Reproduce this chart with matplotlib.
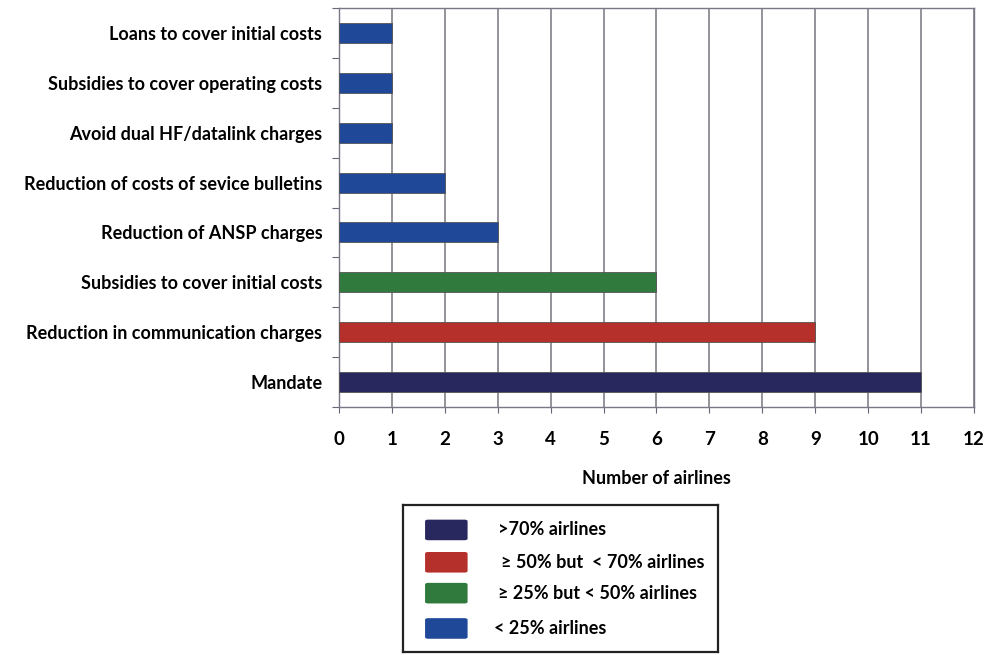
import matplotlib
matplotlib.use("Agg")
import matplotlib.pyplot as plt
from matplotlib.patches import FancyBboxPatch
import numpy as np

plt.rcParams['font.family'] = ['Lato', 'DejaVu Sans']

categories = [
    "Mandate",
    "Reduction in communication charges",
    "Subsidies to cover initial costs",
    "Reduction of ANSP charges",
    "Reduction of costs of sevice bulletins",
    "Avoid dual HF/datalink charges",
    "Subsidies to cover operating costs",
    "Loans to cover initial costs",
]
values = [11, 9, 6, 3, 2, 1, 1, 1]
groups = [0, 1, 2, 3, 3, 3, 3, 3]

group_labels = [">70% airlines", "\u2265 50% but  < 70% airlines",
                "\u2265 25% but < 50% airlines", "< 25% airlines"]
group_colors = ["#28285e", "#b5302a", "#2f7a3c", "#1f4899"]

x_ticks = list(range(0, 13))

fig = plt.figure(figsize=(9.89, 6.55), dpi=100)
ax = fig.add_axes([0.3428, 0.3786, 0.6420, 0.6092])

y = np.arange(len(categories))
ax.barh(y, values, height=0.4, color=[group_colors[g] for g in groups],
        edgecolor="#555555", linewidth=0.6, zorder=3)

ax.set_xlim(0, 12)
ax.set_ylim(-0.5, len(categories) - 0.5)
ax.set_xticks(x_ticks)
ax.set_xticklabels([str(t) for t in x_ticks], fontsize=13.5, fontweight="bold")
ax.tick_params(axis="x", length=4, width=0.8, color="#666677", pad=13)
ax.set_yticks(y)
ax.set_yticklabels(categories, fontsize=13, fontweight="bold")
ax.tick_params(axis="y", which="major", length=0, pad=12)
ax.set_yticks(np.arange(-0.5, len(categories)), minor=True)
ax.tick_params(axis="y", which="minor", length=5, width=0.8, color="#666677")

ax.grid(axis="x", color="#808088", linewidth=1.2, zorder=0)
for s in ax.spines.values():
    s.set_color("#777788")
    s.set_linewidth(1.0)

ax.set_xlabel("Number of airlines", fontsize=13, fontweight="bold", labelpad=16)

# legend box
lax = fig.add_axes([0.4075, 0.0046, 0.3185, 0.2245])
lax.set_xlim(0, 1)
lax.set_ylim(0, 1)
lax.set_xticks([])
lax.set_yticks([])
for s in lax.spines.values():
    s.set_color("#222222")
    s.set_linewidth(1.6)
row_y = [0.83, 0.61, 0.40, 0.16]
text_x = [0.30, 0.31, 0.30, 0.29]
for yy, tx, lab, col in zip(row_y, text_x, group_labels, group_colors):
    lax.add_patch(FancyBboxPatch((0.07, yy - 0.07), 0.135, 0.14,
                                 boxstyle="round,pad=0,rounding_size=0.01",
                                 facecolor=col, edgecolor="none"))
    lax.text(tx, yy, lab, fontsize=13, fontweight="bold", va="center",
             ha="left")

fig.savefig("out.png", dpi=100)
